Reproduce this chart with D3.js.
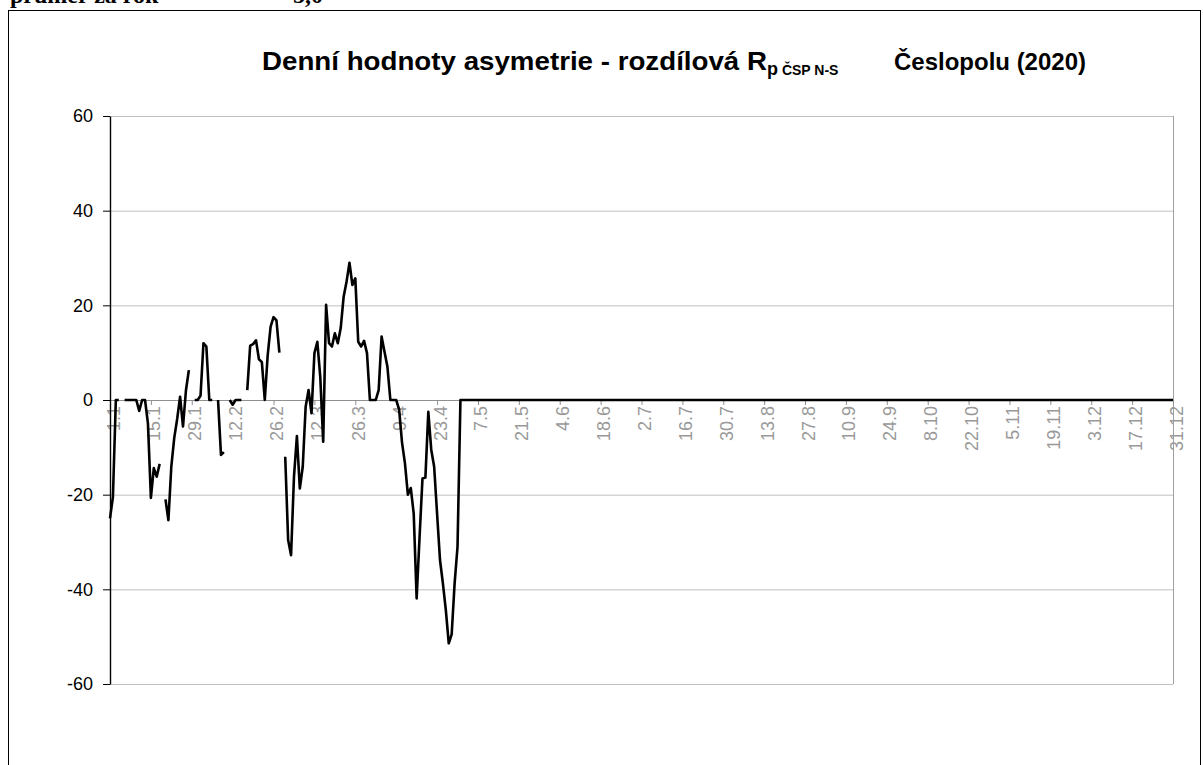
<!DOCTYPE html>
<html><head><meta charset="utf-8">
<script src="https://cdn.jsdelivr.net/npm/d3@7"></script>
<style>
html,body{margin:0;padding:0;background:#fff;}
svg{display:block;}
</style></head>
<body>
<svg id="chart" width="1203" height="765"></svg>
<script>
// ---- data ----
const monthDays = [31,28,31,30,31,30,31,31,30,31,30,31];
const categories = [];
monthDays.forEach((n, m) => { for (let d = 1; d <= n; d++) categories.push(d + "." + (m + 1)); });

// daily values 1.1 – 30.4 (null = missing)
const valuesJanApr = [
  -25, -20.5, 0, 0, null, 0, 0, 0, 0, 0,
  -2.3, 0, 0, -5, -20.7, -14.4, -16.2, -13.5, null, -21,
  -25.4, -14, -8, -4, 0.7, -5.6, 2, 6.3, null, 0,
  0, 0.9, 12, 11.3, 0, 0, null, 0, -11.6, -11,
  null, 0, -1, 0, 0, 0, null, 2.1, 11.5, 11.8,
  12.6, 8.6, 8, 0, 9.5, 15.5, 17.5, 16.8, 10, null,
  -12, -29.6, -32.8, -16.2, -7.6, -18.7, -14.1, -1.4, 2.1, -2.8,
  9.9, 12.3, 4.9, -8.8, 20.1, 12, 11.3, 14.1, 12, 15.2,
  21.8, 25, 29, 24.3, 25.7, 12.3, 11.3, 12.5, 9.9, 0,
  0, 0, 2.1, 13.4, 10.2, 7, 0, 0, 0, -2,
  -9, -13.4, -20, -18.6, -24, -41.9, -29, -16.6, -16.4, -2.5,
  -10.5, -14.1, -24, -33.8, -38.8, -44.4, -51.4, -49.5, -38.8, -31
];
// daily values 1.5 – 31.12 (all zero in the picture)
const valuesMayDec = [
  0,0,0,0,0,0,0,0,0,0,0,0,0,0,0,0,0,0,0,0,0,0,0,0,0,0,0,0,0,0,0,
  0,0,0,0,0,0,0,0,0,0,0,0,0,0,0,0,0,0,0,0,0,0,0,0,0,0,0,0,0,0,
  0,0,0,0,0,0,0,0,0,0,0,0,0,0,0,0,0,0,0,0,0,0,0,0,0,0,0,0,0,0,0,
  0,0,0,0,0,0,0,0,0,0,0,0,0,0,0,0,0,0,0,0,0,0,0,0,0,0,0,0,0,0,0,
  0,0,0,0,0,0,0,0,0,0,0,0,0,0,0,0,0,0,0,0,0,0,0,0,0,0,0,0,0,0,
  0,0,0,0,0,0,0,0,0,0,0,0,0,0,0,0,0,0,0,0,0,0,0,0,0,0,0,0,0,0,0,
  0,0,0,0,0,0,0,0,0,0,0,0,0,0,0,0,0,0,0,0,0,0,0,0,0,0,0,0,0,0,
  0,0,0,0,0,0,0,0,0,0,0,0,0,0,0,0,0,0,0,0,0,0,0,0,0,0,0,0,0,0,0
];
const values = valuesJanApr.concat(valuesMayDec);

const yTicks = [-60, -40, -20, 0, 20, 40, 60];
const xTickLabels = ["1.1","15.1","29.1","12.2","26.2","12.3","26.3","9.4","23.4","7.5","21.5","4.6","18.6","2.7","16.7","30.7","13.8","27.8","10.9","24.9","8.10","22.10","5.11","19.11","3.12","17.12","31.12"];

const topNoteLabel = "průměr za rok";
const topNoteValue = "5,0";

// ---- drawing ----
const svg = d3.select("#chart");
const L = 110, R = 1173, T = 116, B = 684;

svg.append("rect").attr("x",8.5).attr("y",10.5).attr("width",1192).attr("height",800)
  .attr("fill","#fff").attr("stroke","#000").attr("stroke-width",1);

const serif = "'Liberation Serif','Times New Roman',serif";
svg.append("text").attr("x",10).attr("y",3)
  .attr("font-family",serif).attr("font-weight","bold")
  .attr("font-size",24).text(topNoteLabel);
svg.append("text").attr("x",293).attr("y",3)
  .attr("font-family",serif).attr("font-weight","bold")
  .attr("font-size",24).text(topNoteValue);

const x = d3.scalePoint().domain(categories).range([L, R]).padding(0);
const y = d3.scaleLinear().domain([-60, 60]).range([B, T]);

// gridlines
svg.append("g").attr("transform",`translate(${L},0)`)
  .call(d3.axisLeft(y).tickValues(yTicks).tickSize(-(R - L)).tickFormat(""))
  .call(g => g.select(".domain").remove())
  .call(g => g.selectAll("line").attr("stroke","#c0c0c0").attr("stroke-width",1));

// right border of plot area
svg.append("line").attr("x1",R+0.5).attr("x2",R+0.5).attr("y1",T).attr("y2",B)
  .attr("stroke","#a0a0a0").attr("stroke-width",1);

// x axis at 0
const xAxis = svg.append("g").attr("transform",`translate(0,${y(0)})`)
  .call(d3.axisBottom(x).tickValues(xTickLabels).tickSize(5).tickSizeOuter(0));
xAxis.select(".domain").attr("stroke","#909090");
xAxis.selectAll(".tick line").attr("stroke","#909090");
xAxis.selectAll(".tick text")
  .attr("font-family","'Liberation Sans',Arial,sans-serif").attr("font-size",18)
  .attr("fill","#999")
  .attr("transform","rotate(-90)").attr("text-anchor","end")
  .attr("x",-6).attr("y",0).attr("dy","0.5em");

// y axis
const yAxis = svg.append("g").attr("transform",`translate(${L},0)`)
  .call(d3.axisLeft(y).tickValues(yTicks).tickSize(7).tickPadding(10).tickSizeOuter(0)
    .tickFormat(d => String(d)));
yAxis.select(".domain").attr("stroke","#000").attr("stroke-width",1.4);
yAxis.selectAll(".tick line").attr("stroke","#000");
yAxis.selectAll(".tick text").attr("font-family","'Liberation Sans',Arial,sans-serif")
  .attr("font-size",18).attr("fill","#000");

// data line
const line = d3.line()
  .defined(d => d.v !== null)
  .x(d => x(d.c))
  .y(d => y(d.v));
const series = categories.map((c, i) => ({c, v: values[i] === undefined ? null : values[i]}));
svg.append("path").datum(series).attr("d", line)
  .attr("fill","none").attr("stroke","#000").attr("stroke-width",2.6)
  .attr("stroke-linejoin","round");

// title
const sans = "'Liberation Sans',Arial,sans-serif";
const title = svg.append("text").attr("x",262).attr("y",70)
  .attr("font-family",sans).attr("font-weight","bold")
  .attr("font-size",26).attr("fill","#000");
title.append("tspan").attr("textLength",505).attr("lengthAdjust","spacingAndGlyphs")
  .text("Denní hodnoty asymetrie - rozdílová R");
title.append("tspan").attr("font-size",18).attr("dy",5).text("p");
title.append("tspan").attr("font-size",14).text(" ČSP N-S");
svg.append("text").attr("x",1086).attr("y",70).attr("text-anchor","end")
  .attr("font-family",sans).attr("font-weight","bold")
  .attr("font-size",24).attr("fill","#000").text("Česlopolu (2020)");
</script>
</body></html>
